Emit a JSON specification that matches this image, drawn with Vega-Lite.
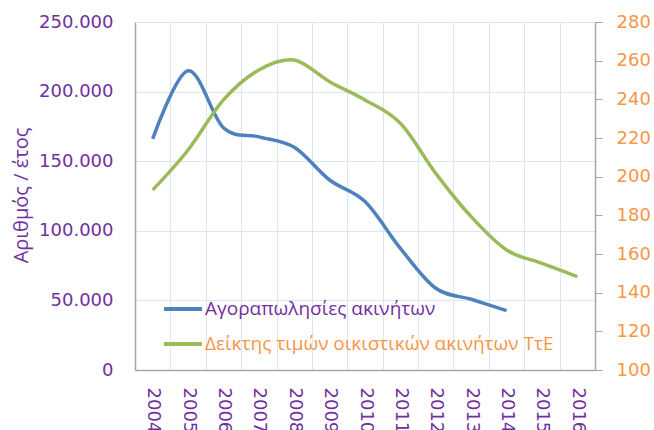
{
  "$schema": "https://vega.github.io/schema/vega-lite/v6.json",
  "width": 460,
  "height": 348,
  "autosize": {"type": "none"},
  "padding": {"left": 135, "top": 22, "right": 59, "bottom": 60},
  "background": "white",
  "config": {"view": {"stroke": null}},
  "data": {
    "values": [
      {"year": "2004", "sales": 166000, "index": 193.1},
      {"year": "2005", "sales": 215000, "index": 213.8},
      {"year": "2006", "sales": 174000, "index": 239.7},
      {"year": "2007", "sales": 167500, "index": 255.2},
      {"year": "2008", "sales": 160000, "index": 260.3},
      {"year": "2009", "sales": 136500, "index": 249.1},
      {"year": "2010", "sales": 121000, "index": 239.7},
      {"year": "2011", "sales": 87400, "index": 227.6},
      {"year": "2012", "sales": 58700, "index": 201.7},
      {"year": "2013", "sales": 50800, "index": 179.3},
      {"year": "2014", "sales": 42600, "index": 162.1},
      {"year": "2015", "index": 155.2},
      {"year": "2016", "index": 148.3}
    ]
  },
  "encoding": {
    "x": {
      "field": "year",
      "type": "ordinal",
      "bandPosition": 0.5,
      "scale": {"type": "band", "paddingInner": 0, "paddingOuter": 0},
      "axis": {
        "title": null,
        "labelAngle": 90,
        "labelFont": "DejaVu Sans",
        "labelFontSize": 18,
        "labelColor": "#7030A0",
        "ticks": false,
        "tickBand": "extent",
        "grid": true,
        "gridColor": "#DCE6F2",
        "gridWidth": 1,
        "domainColor": "#A6A6A6",
        "domainWidth": 1.5,
        "labelPadding": 17
      }
    }
  },
  "layer": [
    {
      "mark": {"type": "line", "interpolate": "cardinal", "tension": 0, "strokeWidth": 3.5},
      "encoding": {
        "y": {
          "field": "sales",
          "type": "quantitative",
          "scale": {"domain": [0, 250000], "nice": false},
          "axis": {
            "values": [0, 50000, 100000, 150000, 200000, 250000],
            "labelExpr": "replace(format(datum.value, ',d'), ',', '.')",
            "labelFont": "DejaVu Sans",
            "labelFontSize": 18,
            "labelColor": "#7030A0",
            "ticks": false,
            "labelPadding": 22,
            "grid": true,
            "gridColor": "#DCE6F2",
            "domainColor": "#A6A6A6",
            "domainWidth": 1.5,
            "title": "Αριθμός / ΄ετος",
            "titleFont": "Open Sans",
            "titleFontSize": 20,
            "titleFontWeight": "normal",
            "titleColor": "#7030A0",
            "titleAngle": -90,
            "titleAlign": "center",
            "titleBaseline": "middle",
            "titleX": -114,
            "titleY": 173
          }
        },
        "color": {
          "datum": "Αγοραπωλησίες ακινήτων",
          "scale": {
            "domain": ["Αγοραπωλησίες ακινήτων", "Δείκτης τιμών οικιστικών ακινήτων ΤτΕ"],
            "range": ["#4F81BD", "#9BBB59"]
          },
          "legend": {
            "orient": "none",
            "legendX": 27,
            "legendY": 266,
            "title": null,
            "padding": 0,
            "symbolType": "stroke",
            "symbolSize": 1444,
            "symbolStrokeWidth": 4,
            "labelFont": "Open Sans",
            "labelFontSize": 19,
            "labelOffset": 1,
            "rowPadding": 4,
            "labelLimit": 500,
            "encode": {
              "labels": {
                "update": {
                  "fill": {"signal": "datum.label === 'Αγοραπωλησίες ακινήτων' ? '#7030A0' : '#F79646'"}
                }
              }
            }
          }
        }
      }
    },
    {
      "mark": {"type": "line", "interpolate": "cardinal", "tension": 0, "strokeWidth": 3.5},
      "encoding": {
        "y": {
          "field": "index",
          "type": "quantitative",
          "scale": {"domain": [100, 280], "nice": false, "zero": false},
          "axis": {
            "orient": "right",
            "values": [100, 120, 140, 160, 180, 200, 220, 240, 260, 280],
            "labelFont": "DejaVu Sans",
            "labelFontSize": 18,
            "labelColor": "#F79646",
            "ticks": true,
            "tickSize": 7,
            "tickColor": "#A6A6A6",
            "labelPadding": 14,
            "grid": false,
            "domainColor": "#A6A6A6",
            "domainWidth": 1.5,
            "title": null
          }
        },
        "color": {"datum": "Δείκτης τιμών οικιστικών ακινήτων ΤτΕ"}
      }
    }
  ],
  "resolve": {"scale": {"y": "independent"}, "axis": {"y": "independent"}}
}
